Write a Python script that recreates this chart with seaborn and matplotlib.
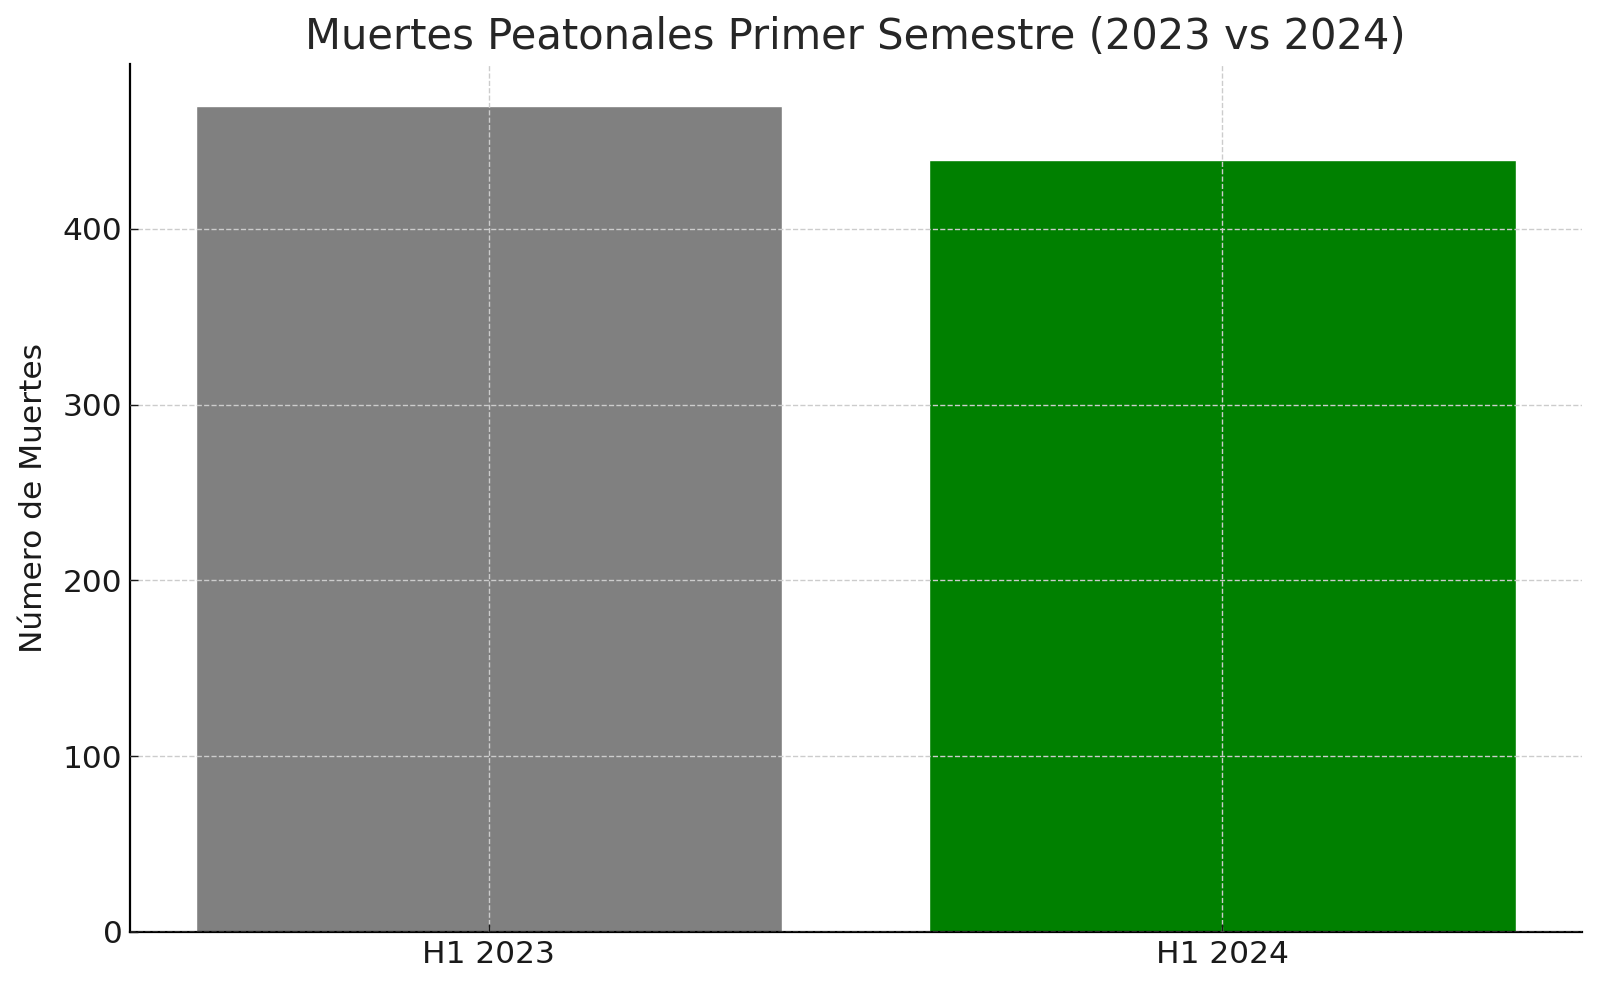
import pandas as pd
import matplotlib
matplotlib.use("Agg")
import matplotlib.pyplot as plt
import seaborn as sns

periodos = ["H1 2023", "H1 2024"]
muertes = [470, 439]
colores = ["#808080", "#008000"]

titulo = "Muertes Peatonales Primer Semestre (2023 vs 2024)"
etiqueta_y = "Número de Muertes"


def main():
    sns.set_style("ticks")
    plt.rcParams["font.family"] = ["DejaVu Sans"]
    plt.rcParams["xtick.direction"] = "in"
    plt.rcParams["ytick.direction"] = "in"

    df = pd.DataFrame({"periodo": periodos, "muertes": muertes})

    fig = plt.figure(figsize=(16, 9.91), dpi=100)
    ax = fig.add_axes([0.081, 0.0597, 0.9075, 0.8753])

    sns.barplot(data=df, x="periodo", y="muertes", hue="periodo",
                palette=colores, legend=False, saturation=1, width=0.8, ax=ax)

    ax.set_xlim(-0.49, 1.49)
    ax.set_ylim(0, max(muertes) * 1.05)
    ax.set_axisbelow(False)
    ax.grid(True, linestyle="--", color="#cccccc", linewidth=1)

    ax.set_title(titulo, fontsize=30, color="#262626", pad=11)
    ax.set_xlabel("")
    ax.set_ylabel(etiqueta_y, fontsize=22.5, color="#1a1a1a", labelpad=11)
    ax.tick_params(axis="both", labelsize=22.5, length=6, width=1, colors="#1a1a1a")
    ax.tick_params(axis="x", pad=6)
    ax.tick_params(axis="y", pad=5)

    sns.despine(ax=ax)
    for s in ["left", "bottom"]:
        ax.spines[s].set_linewidth(1.6)
        ax.spines[s].set_color("black")

    fig.savefig("out.png", dpi=100)


if __name__ == "__main__":
    main()
